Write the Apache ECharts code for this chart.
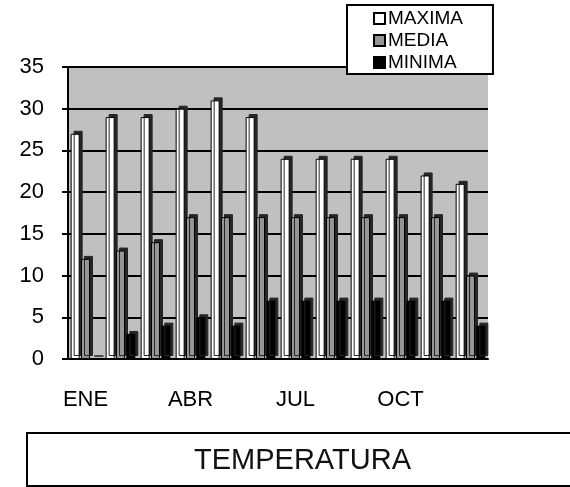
<!DOCTYPE html>
<html lang="es">
<head>
	<meta charset="UTF-8">
	<title>Temperatura</title>
	<script src="https://cdn.jsdelivr.net/npm/echarts@6/dist/echarts.min.js"></script>
	<style>
		body { margin: 0; background: #fff; }
	</style>
</head>
<body>
	<div id="main" style="width: 570px;height: 487px;"></div>
	<script>
		var meses = ['ENE', 'FEB', 'MAR', 'ABR', 'MAY', 'JUN', 'JUL', 'AGO', 'SEP', 'OCT', 'NOV', 'DIC'];
		var maxima = [27, 29, 29, 30, 31, 29, 24, 24, 24, 24, 22, 21];
		var media = [12, 13, 14, 17, 17, 17, 17, 17, 17, 17, 17, 10];
		var minima = [0, 3, 4, 5, 4, 7, 7, 7, 7, 7, 7, 4];

		var fuente = 'Liberation Sans, Arial, sans-serif';

		function serie(nombre, datos, color) {
			return {
				name: nombre,
				type: 'bar',
				barWidth: 9,
				barGap: '15%',
				data: datos,
				itemStyle: {
					color: color,
					borderColor: '#000',
					borderWidth: 1,
					shadowColor: '#262626',
					shadowBlur: 0,
					shadowOffsetX: 3,
					shadowOffsetY: -3
				}
			};
		}

		var myChart = echarts.init(document.getElementById('main'));
		myChart.setOption({
			backgroundColor: '#fff',
			animation: false,
			title: {
				text: 'TEMPERATURA',
				left: 189,
				top: 441,
				textStyle: { fontFamily: fuente, fontSize: 29, fontWeight: 'normal', color: '#111' }
			},
			graphic: [{
				type: 'rect',
				shape: { x: 27, y: 433, width: 560, height: 53 },
				style: { fill: 'none', stroke: '#000', lineWidth: 2 }
			}],
			legend: {
				orient: 'vertical',
				left: 347,
				top: 5,
				padding: [4, 30, 2, 26],
				backgroundColor: '#fff',
				borderColor: '#000',
				borderWidth: 2,
				itemWidth: 11,
				itemHeight: 11,
				itemGap: 3,
				icon: 'rect',
				itemStyle: { shadowBlur: 0, shadowOffsetX: 0, shadowOffsetY: 0, shadowColor: 'transparent' },
				textStyle: { fontFamily: fuente, fontSize: 19, color: '#000', padding: [0, 0, 0, -2] },
				data: ['MAXIMA', 'MEDIA', 'MINIMA']
			},
			grid: {
				left: 68,
				right: 82,
				top: 67,
				bottom: 128,
				show: true,
				backgroundColor: '#c0c0c0',
				borderWidth: 0
			},
			xAxis: {
				type: 'category',
				data: meses,
				axisLine: { lineStyle: { color: '#000', width: 2 } },
				axisTick: { length: 6, lineStyle: { color: '#000', width: 2 } },
				axisLabel: {
					interval: 2,
					margin: 30,
					fontFamily: fuente,
					fontSize: 22,
					color: '#000'
				}
			},
			yAxis: {
				type: 'value',
				min: 0,
				max: 35,
				interval: 5,
				axisLine: { show: true, lineStyle: { color: '#000', width: 2 } },
				axisTick: { show: true, length: 6, lineStyle: { color: '#000', width: 2 } },
				splitLine: { lineStyle: { color: '#000', width: 2 } },
				axisLabel: {
					margin: 24,
					fontFamily: fuente,
					fontSize: 22,
					color: '#000'
				}
			},
			series: [
				serie('MAXIMA', maxima, '#ffffff'),
				serie('MEDIA', media, '#969696'),
				serie('MINIMA', minima, '#000000')
			]
		});
	</script>
</body>
</html>
